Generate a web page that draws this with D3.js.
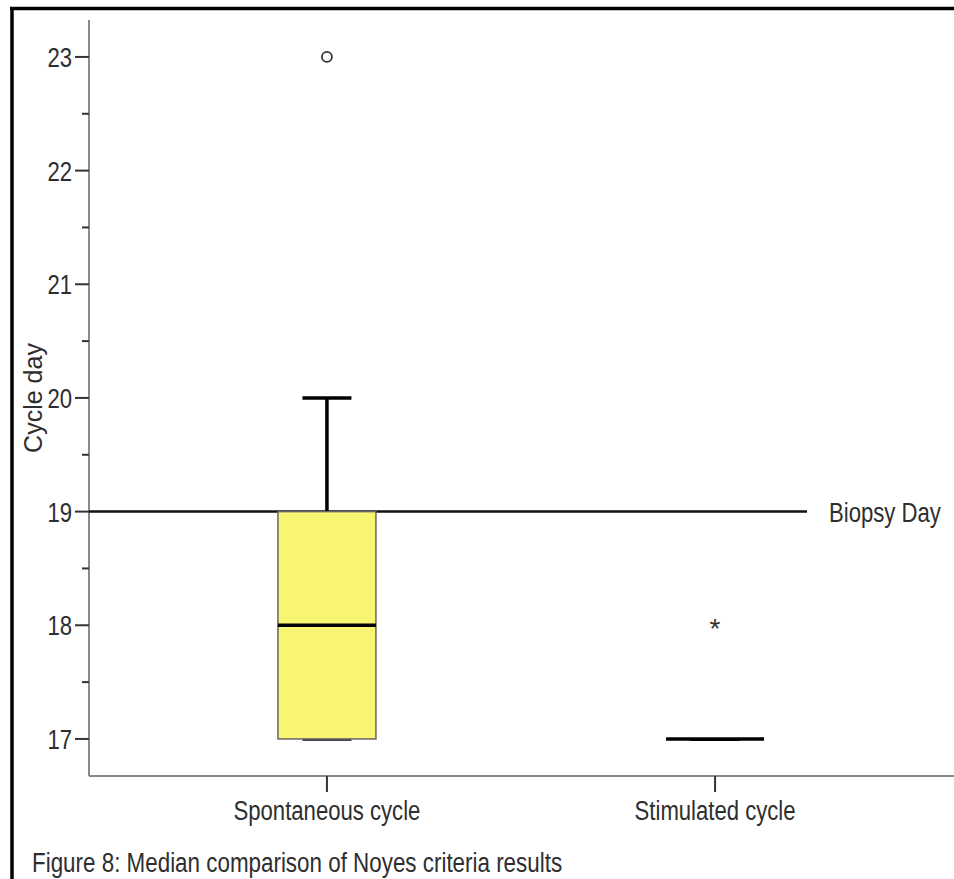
<!DOCTYPE html>
<html><head><meta charset="utf-8">
<script src="https://cdn.jsdelivr.net/npm/d3@7"></script>
<style>
html,body{margin:0;padding:0;background:#fff;}
text{font-family:"Liberation Sans",Arial,sans-serif;fill:#2e2e2e;}
</style></head>
<body>
<svg id="chart" width="954" height="879"></svg>
<script>
// ---- data ----
const categories = ["Spontaneous cycle", "Stimulated cycle"];
const q1Values = [17, 17];
const medianValues = [18, 17];
const q3Values = [19, 17];
const whiskerLow = [17, 17];
const whiskerHigh = [20, 17];
const outlierCircle = [[23], []];   // mild outliers (o)
const outlierStar = [[], [18]];     // extreme outliers (*)
const referenceValue = 19;
const referenceLabel = "Biopsy Day";
const majorTicks = [17, 18, 19, 20, 21, 22, 23];
const minorTicks = [17.5, 18.5, 19.5, 20.5, 21.5, 22.5];
const yTitle = "Cycle day";
const caption = "Figure 8: Median comparison of Noyes criteria results";

// ---- layout ----
const svg = d3.select("#chart");
const axisX = 89, axisBottom = 776, axisTop = 20;
const y = d3.scaleLinear().domain([16.674, 23.325]).range([axisBottom, axisTop]);
const x = d3.scalePoint().domain(categories).range([axisX, 953]).padding(0.613);
const boxW = 98, capW = 49;
const SX = 0.79;

// frame
svg.append("line").attr("x1", 12).attr("x2", 12).attr("y1", 7).attr("y2", 879)
  .attr("stroke", "#000").attr("stroke-width", 3.5);
svg.append("line").attr("x1", 10).attr("x2", 954).attr("y1", 8.5).attr("y2", 8.5)
  .attr("stroke", "#000").attr("stroke-width", 3.5);

// y axis
const yAxis = svg.append("g");
yAxis.append("line").attr("x1", axisX).attr("x2", axisX).attr("y1", axisTop).attr("y2", axisBottom)
  .attr("stroke", "#8a8a8a").attr("stroke-width", 2);
yAxis.selectAll(".maj").data(majorTicks).join("line")
  .attr("x1", axisX - 14).attr("x2", axisX).attr("y1", d => y(d)).attr("y2", d => y(d))
  .attr("stroke", "#333").attr("stroke-width", 2);
yAxis.selectAll(".min").data(minorTicks).join("line")
  .attr("x1", axisX - 7).attr("x2", axisX).attr("y1", d => y(d)).attr("y2", d => y(d))
  .attr("stroke", "#333").attr("stroke-width", 2);
yAxis.selectAll("text").data(majorTicks).join("text")
  .attr("transform", d => `translate(72,${y(d) + 10}) scale(${SX},1)`)
  .attr("text-anchor", "end").attr("font-size", 28).text(d => d);

// y title
svg.append("text").attr("transform", "translate(42,398) rotate(-90)")
  .attr("text-anchor", "middle").attr("font-size", 25).text(yTitle);

// x axis
svg.append("line").attr("x1", axisX).attr("x2", 954).attr("y1", axisBottom).attr("y2", axisBottom)
  .attr("stroke", "#8a8a8a").attr("stroke-width", 2);
svg.selectAll(".xt").data(categories).join("line")
  .attr("x1", d => x(d)).attr("x2", d => x(d)).attr("y1", axisBottom).attr("y2", axisBottom + 16)
  .attr("stroke", "#333").attr("stroke-width", 2);
svg.selectAll(".xl").data(categories).join("text")
  .attr("transform", d => `translate(${x(d)},820) scale(${SX},1)`)
  .attr("text-anchor", "middle").attr("font-size", 28).text(d => d);

// reference line
svg.append("line").attr("x1", axisX).attr("x2", 807).attr("y1", y(referenceValue)).attr("y2", y(referenceValue))
  .attr("stroke", "#111").attr("stroke-width", 2.5);
svg.append("text").attr("transform", `translate(829,${y(referenceValue) + 10}) scale(${SX},1)`)
  .attr("font-size", 28).text(referenceLabel);

// boxes
const g = svg.append("g");
categories.forEach((c, i) => {
  const cx = x(c);
  // upper whisker
  if (whiskerHigh[i] > q3Values[i]) {
    g.append("line").attr("x1", cx).attr("x2", cx).attr("y1", y(q3Values[i])).attr("y2", y(whiskerHigh[i]))
      .attr("stroke", "#000").attr("stroke-width", 3.5);
    g.append("line").attr("x1", cx - capW / 2).attr("x2", cx + capW / 2)
      .attr("y1", y(whiskerHigh[i])).attr("y2", y(whiskerHigh[i]))
      .attr("stroke", "#000").attr("stroke-width", 3.5);
  }
  // lower whisker cap
  g.append("line").attr("x1", cx - capW / 2).attr("x2", cx + capW / 2)
    .attr("y1", y(whiskerLow[i]) + 0.5).attr("y2", y(whiskerLow[i]) + 0.5)
    .attr("stroke", "#444").attr("stroke-width", 3);
  // box
  if (q3Values[i] > q1Values[i]) {
    g.append("rect").attr("x", cx - boxW / 2).attr("width", boxW)
      .attr("y", y(q3Values[i])).attr("height", y(q1Values[i]) - y(q3Values[i]))
      .attr("fill", "#f8f572").attr("stroke", "#666").attr("stroke-width", 1.5);
  }
  // median
  g.append("line").attr("x1", cx - boxW / 2).attr("x2", cx + boxW / 2)
    .attr("y1", y(medianValues[i])).attr("y2", y(medianValues[i]))
    .attr("stroke", "#000").attr("stroke-width", 3.5);
  if (q3Values[i] === q1Values[i]) {
    g.append("line").attr("x1", cx - capW / 2).attr("x2", cx + capW / 2)
      .attr("y1", y(whiskerLow[i]) + 1).attr("y2", y(whiskerLow[i]) + 1)
      .attr("stroke", "#000").attr("stroke-width", 2);
  }
  // outliers
  outlierCircle[i].forEach(v => {
    g.append("circle").attr("cx", cx).attr("cy", y(v)).attr("r", 5)
      .attr("fill", "none").attr("stroke", "#333").attr("stroke-width", 1.8);
  });
  outlierStar[i].forEach(v => {
    g.append("text").attr("x", cx).attr("y", y(v) + 13).attr("text-anchor", "middle")
      .attr("font-size", 28).style("fill", "#333").text("*");
  });
});

// caption
svg.append("text").attr("transform", `translate(32,872) scale(0.8,1)`)
  .attr("font-size", 28).text(caption);
</script>
</body></html>
